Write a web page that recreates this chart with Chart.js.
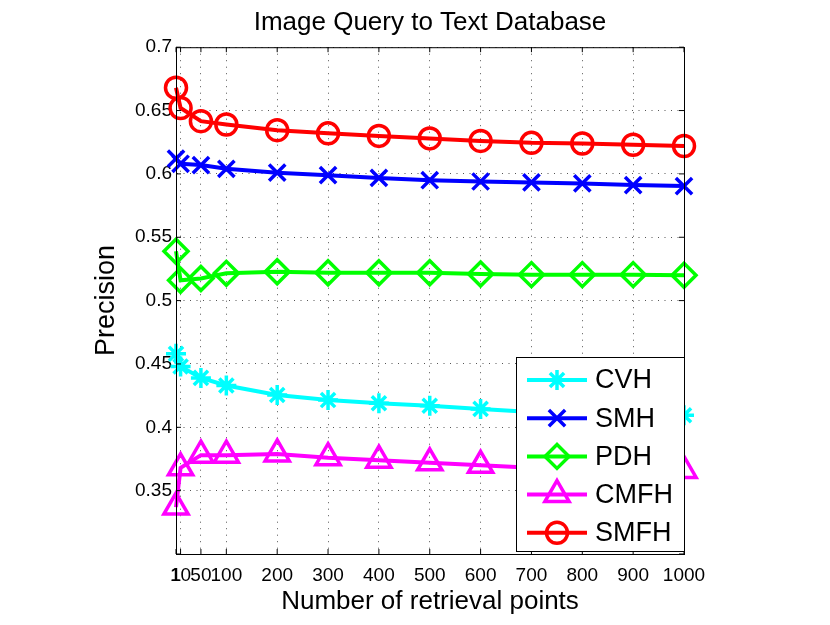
<!DOCTYPE html>
<html>
<head>
<meta charset="utf-8">
<title>Image Query to Text Database</title>
<script src="https://cdn.jsdelivr.net/npm/chart.js"></script>
<style>
  html, body { margin: 0; padding: 0; background: #fff; }
  #wrap { width: 830px; height: 625px; }
</style>
</head>
<body>
<div id="wrap"><canvas id="precisionChart" width="830" height="625"></canvas></div>
<script>
//---------------------------------------------------------------------//
//-----------------------------DATA ZONE-------------------------------//
//---------------------------------------------------------------------//
const retrievalPoints = [1, 10, 50, 100, 200, 300, 400, 500, 600, 700, 800, 900, 1000];
const xTickValues = [1, 10, 50, 100, 200, 300, 400, 500, 600, 700, 800, 900, 1000];
const yTickValues = [0.3, 0.35, 0.4, 0.45, 0.5, 0.55, 0.6, 0.65, 0.7];

const cvhValues  = [0.458, 0.448, 0.439, 0.433, 0.4255, 0.4215, 0.419, 0.417, 0.4145, 0.412, 0.411, 0.4105, 0.4095];
const smhValues  = [0.612, 0.608, 0.607, 0.604, 0.601, 0.599, 0.5968, 0.595, 0.594, 0.5933, 0.5925, 0.5912, 0.5904];
const pdhValues  = [0.539, 0.516, 0.5175, 0.5215, 0.5228, 0.522, 0.522, 0.522, 0.521, 0.5205, 0.5205, 0.5205, 0.520];
const cmfhValues = [0.337, 0.368, 0.378, 0.378, 0.379, 0.376, 0.374, 0.372, 0.370, 0.368, 0.367, 0.367, 0.366];
const smfhValues = [0.668, 0.652, 0.6416, 0.639, 0.6345, 0.632, 0.630, 0.628, 0.626, 0.6245, 0.624, 0.623, 0.622];

const seriesNames = ['CVH', 'SMH', 'PDH', 'CMFH', 'SMFH'];
//---------------------------------------------------------------------//
//----------------------------STYLE ZONE-------------------------------//
//---------------------------------------------------------------------//
const FONT = '"Liberation Sans", Arial, Helvetica, sans-serif';

function makeSeries(label, values, color, pointStyle, radius) {
    return {
        label: label,
        data: retrievalPoints.map((x, i) => ({ x: x, y: values[i] })),
        borderColor: color,
        backgroundColor: 'rgba(0,0,0,0)',
        pointBorderColor: color,
        pointBackgroundColor: 'rgba(0,0,0,0)',
        borderWidth: 4,
        pointBorderWidth: 3.5,
        pointStyle: pointStyle,
        pointRadius: radius,
        pointHoverRadius: radius,
        tension: 0,
        clip: false
    };
}

// box around the axes + inward tick marks (MATLAB look)
const axesBoxPlugin = {
    id: 'axesBox',
    afterDatasetsDraw(chart) {
        const { ctx, chartArea } = chart;
        const xs = chart.scales.x;
        const ys = chart.scales.y;
        ctx.save();
        ctx.strokeStyle = '#000';
        ctx.lineWidth = 1;
        ctx.beginPath();
        xTickValues.forEach(v => {
            const px = xs.getPixelForValue(v);
            ctx.moveTo(px, chartArea.bottom);
            ctx.lineTo(px, chartArea.bottom - 5);
            ctx.moveTo(px, chartArea.top);
            ctx.lineTo(px, chartArea.top + 5);
        });
        yTickValues.forEach(v => {
            const py = ys.getPixelForValue(v);
            ctx.moveTo(chartArea.left, py);
            ctx.lineTo(chartArea.left + 5, py);
            ctx.moveTo(chartArea.right, py);
            ctx.lineTo(chartArea.right - 5, py);
        });
        ctx.stroke();
        ctx.strokeRect(chartArea.left + 0.5, chartArea.top + 0.5,
            chartArea.right - chartArea.left, chartArea.bottom - chartArea.top);
        ctx.restore();
    }
};

// legend drawn inside the plot, bottom right
const insideLegendPlugin = {
    id: 'insideLegend',
    afterDraw(chart) {
        const { ctx, chartArea } = chart;
        const boxW = 168, boxH = 194;
        const left = chartArea.right - boxW;
        const top = chartArea.bottom - 3 - boxH;
        ctx.save();
        ctx.fillStyle = '#fff';
        ctx.fillRect(left, top, boxW, boxH);
        ctx.strokeStyle = '#000';
        ctx.lineWidth = 1;
        ctx.strokeRect(left + 0.5, top + 0.5, boxW, boxH);

        chart.data.datasets.forEach((ds, i) => {
            const cy = top + 23 + i * 38.2;
            ctx.strokeStyle = ds.borderColor;
            ctx.lineWidth = 4;
            ctx.beginPath();
            ctx.moveTo(left + 11, cy);
            ctx.lineTo(left + 71, cy);
            ctx.stroke();

            ctx.lineWidth = ds.pointBorderWidth;
            ctx.fillStyle = 'rgba(0,0,0,0)';
            Chart.helpers.drawPoint(ctx, {
                pointStyle: ds.pointStyle,
                rotation: 0,
                radius: ds.pointRadius,
                borderWidth: ds.pointBorderWidth
            }, left + 41, cy);

            ctx.fillStyle = '#000';
            ctx.font = '27px ' + FONT;
            ctx.textAlign = 'left';
            ctx.textBaseline = 'middle';
            ctx.fillText(ds.label, left + 79, cy + 1);
        });
        ctx.restore();
    }
};
//---------------------------------------------------------------------//
//----------------------------CHART ZONE-------------------------------//
//---------------------------------------------------------------------//
document.addEventListener('DOMContentLoaded', () => {
    const ctx = document.getElementById('precisionChart').getContext('2d');

    new Chart(ctx, {
        type: 'line',
        data: {
            datasets: [
                makeSeries(seriesNames[0], cvhValues,  '#00FFFF', 'star', 10),
                makeSeries(seriesNames[1], smhValues,  '#0000FF', 'crossRot', 11.5),
                makeSeries(seriesNames[2], pdhValues,  '#00FF00', 'rectRot', 12),
                makeSeries(seriesNames[3], cmfhValues, '#FF00FF', 'triangle', 14),
                makeSeries(seriesNames[4], smfhValues, '#FF0000', 'circle', 10.5)
            ]
        },
        options: {
            responsive: false,
            animation: false,
            layout: { padding: { left: 0, right: 146, top: 7, bottom: 0 } },
            plugins: {
                legend: { display: false },
                tooltip: { enabled: false },
                title: {
                    display: true,
                    fullSize: false,
                    text: 'Image Query to Text Database',
                    color: '#000',
                    font: { family: FONT, size: 26, weight: 'normal' },
                    padding: { top: 0, bottom: 9 }
                }
            },
            scales: {
                x: {
                    type: 'linear',
                    min: 1,
                    max: 1000,
                    afterBuildTicks: (scale) => {
                        scale.ticks = xTickValues.map(v => ({ value: v }));
                    },
                    afterFit: (scale) => { scale.height = 71; },
                    ticks: {
                        autoSkip: false,
                        maxRotation: 0,
                        minRotation: 0,
                        padding: 10,
                        color: '#000',
                        font: { family: FONT, size: 19 },
                        callback: (value) => String(value)
                    },
                    grid: { color: '#555', lineWidth: 1, drawTicks: false },
                    border: { display: true, color: '#000', width: 1, dash: [1, 5.5] },
                    title: {
                        display: true,
                        text: 'Number of retrieval points',
                        color: '#000',
                        font: { family: FONT, size: 26 },
                        padding: { top: 0, bottom: 8 }
                    }
                },
                y: {
                    type: 'linear',
                    min: 0.3,
                    max: 0.7,
                    afterBuildTicks: (scale) => {
                        scale.ticks = yTickValues.map(v => ({ value: v }));
                    },
                    afterFit: (scale) => { scale.width = 176; },
                    ticks: {
                        padding: 4,
                        color: '#000',
                        font: { family: FONT, size: 19 },
                        callback: (value) => {
                            const v = Math.round(value * 100) / 100;
                            return v === 0.3 ? '' : String(v);
                        }
                    },
                    grid: { color: '#555', lineWidth: 1, drawTicks: false },
                    border: { display: true, color: '#000', width: 1, dash: [1, 5.5] },
                    title: {
                        display: true,
                        text: 'Precision',
                        color: '#000',
                        font: { family: FONT, size: 27 },
                        padding: { top: 90, bottom: 0 }
                    }
                }
            }
        },
        plugins: [axesBoxPlugin, insideLegendPlugin]
    });
});
//---------------------------------------------------------------------//
</script>
</body>
</html>
